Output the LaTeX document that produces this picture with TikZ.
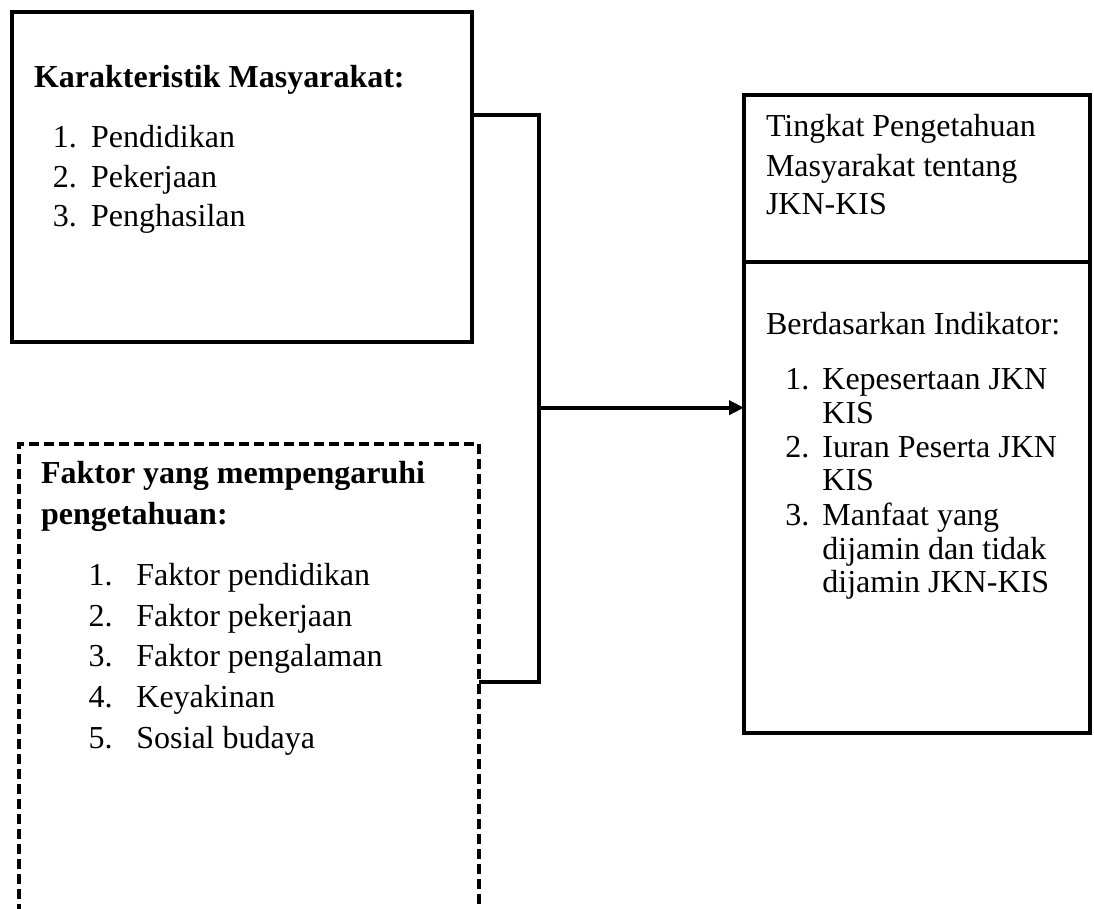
\documentclass[tikz,border=0pt]{standalone}
\usepackage{fontspec}
\setmainfont{Liberation Serif}
\usetikzlibrary{arrows.meta}
\begin{document}
\begin{tikzpicture}[x=0.5pt,y=-0.5pt,
  frame/.style={draw, line width=2pt, inner sep=0pt, outer sep=0pt},
  dframe/.style={frame, dash pattern=on 5pt off 2.5pt},
  conn/.style={line width=2pt},
  txt/.style={anchor=base west, inner sep=0pt, outer sep=0pt, font=\fontsize{16}{19}\selectfont},
  btxt/.style={txt, font=\fontsize{16}{19}\selectfont\bfseries}]
\useasboundingbox (0,0) rectangle (1094,909);
\fill[white] (0,0) rectangle (1094,909);

% boxes
\node[frame, minimum width=230pt, minimum height=164.85pt, anchor=north west] (k) at (12.3,12.3) {};
\begin{scope}
  \clip (0,0) rectangle (1094,909);
  \node[dframe, minimum width=230pt, minimum height=300pt, anchor=north west] (f) at (19,444.3) {};
\end{scope}
\node[frame, minimum width=173pt, minimum height=83.65pt, anchor=north west] (t) at (744,94.7) {};
\node[frame, minimum width=173pt, minimum height=235.35pt, anchor=north west] (b) at (744,262) {};

% connectors
\coordinate (j1) at (538.7,115.3);
\coordinate (j2) at (538.7,681.7);
\coordinate (jA) at (538.7,407.7);
\draw[conn] (k.east |- j1) -- (j1) -- (j2) -- (f.east |- j2);
\draw[conn, -{Triangle[length=7.5pt,width=7pt]}] (jA) -- (b.west |- jA);

% box 1 text
\node[btxt] (kt) at (34,87.3) {Karakteristik Masyarakat:};
\node[txt] (k1n) at (53,148) {1.};
\node[txt] (k1) at (91,148) {Pendidikan};
\node[txt] (k2n) at (53,187.5) {2.};
\node[txt] (k2) at (91,187.5) {Pekerjaan};
\node[txt] (k3n) at (53,227) {3.};
\node[txt] (k3) at (91,227) {Penghasilan};

% dashed box text
\node[btxt] (ft1) at (41,484) {Faktor yang mempengaruhi};
\node[btxt] (ft2) at (41,524.6) {pengetahuan:};
\node[txt] (f1n) at (88.6,586) {1.};
\node[txt] (f1) at (136.4,586) {Faktor pendidikan};
\node[txt] (f2n) at (88.6,626.5) {2.};
\node[txt] (f2) at (136.4,626.5) {Faktor pekerjaan};
\node[txt] (f3n) at (88.6,667) {3.};
\node[txt] (f3) at (136.4,667) {Faktor pengalaman};
\node[txt] (f4n) at (88.6,707.5) {4.};
\node[txt] (f4) at (136.4,707.5) {Keyakinan};
\node[txt] (f5n) at (88.6,748) {5.};
\node[txt] (f5) at (136.4,748) {Sosial budaya};

% right box text
\node[txt] (tt1) at (766,136.3) {Tingkat Pengetahuan};
\node[txt] (tt2) at (766,176.1) {Masyarakat tentang};
\node[txt] (tt3) at (766,215) {JKN-KIS};
\node[txt] (bt) at (766,334.5) {Berdasarkan Indikator:};
\node[txt] (b1n) at (785.3,389.5) {1.};
\node[txt] (b1a) at (822.4,389.5) {Kepesertaan JKN};
\node[txt] (b1b) at (822.4,423.3) {KIS};
\node[txt] (b2n) at (785.3,457.5) {2.};
\node[txt] (b2a) at (822.4,457.5) {Iuran Peserta JKN};
\node[txt] (b2b) at (822.4,490.4) {KIS};
\node[txt] (b3n) at (785.3,525.9) {3.};
\node[txt] (b3a) at (822.4,525.9) {Manfaat yang};
\node[txt] (b3b) at (822.4,559.2) {dijamin dan tidak};
\node[txt] (b3c) at (822.4,593) {dijamin JKN-KIS};
\end{tikzpicture}
\end{document}
